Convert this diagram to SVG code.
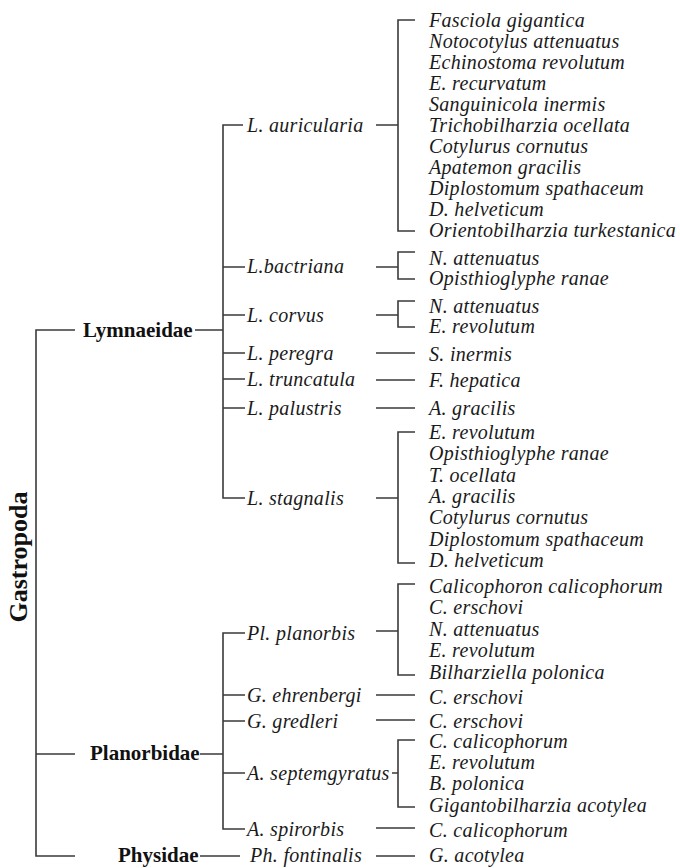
<svg xmlns="http://www.w3.org/2000/svg" width="680" height="868" viewBox="0 0 680 868">
<style>
.ln{stroke:#3a3a3a;stroke-width:1.6;fill:none}
.sp{font-family:"Liberation Serif","Times New Roman",serif;font-style:italic;font-size:20px;letter-spacing:0.3px;fill:#1a1a1a}
.fam{font-family:"Liberation Serif","Times New Roman",serif;font-weight:bold;font-size:21px;fill:#111}
.root{font-family:"Liberation Serif","Times New Roman",serif;font-weight:bold;font-size:26px;fill:#111}
</style>
<rect width="680" height="868" fill="#fff"/>
<g id="connectors" class="ln">
<path d="M75 330H36V856H75M36 754H75"/>
<path d="M195 330H223M243 125H223V498H245M223 267H245M223 315H245M223 353H245M223 379H245M223 408H245"/>
<path d="M200 754H223M245 633H223V829H245M223 695H245M223 721H245M223 773H245"/>
<path d="M200 856H240"/>
<path d="M376 125H398M415 20H398V231H415"/>
<path d="M376 267H398M415 252H398V279H415"/>
<path d="M376 315H398M415 301H398V327H415"/>
<path d="M376 353H415M376 380H415M376 408H415"/>
<path d="M376 498H398M415 432H398V563H415"/>
<path d="M376 631H398M415 584H398V675H415"/>
<path d="M376 695H415M376 720H415"/>
<path d="M392 773H398M415 740H398V807H415"/>
<path d="M376 828H415M376 856H415"/>
</g>
<g id="gastropoda"><text class="root" transform="translate(27 557) rotate(-90)" text-anchor="middle">Gastropoda</text></g>
<g id="lymnaeidae"><text class="fam" x="83" y="337">Lymnaeidae</text></g>
<g id="planorbidae"><text class="fam" x="90" y="760">Planorbidae</text></g>
<g id="physidae"><text class="fam" x="118" y="862">Physidae</text></g>

<g id="l-auricularia"><text class="sp" x="247" y="132">L. auricularia</text></g>
<g id="l-bactriana"><text class="sp" x="247" y="273">L.bactriana</text></g>
<g id="l-corvus"><text class="sp" x="247" y="322">L. corvus</text></g>
<g id="l-peregra"><text class="sp" x="247" y="360">L. peregra</text></g>
<g id="l-truncatula"><text class="sp" x="247" y="386">L. truncatula</text></g>
<g id="l-palustris"><text class="sp" x="247" y="415">L. palustris</text></g>
<g id="l-stagnalis"><text class="sp" x="247" y="505">L. stagnalis</text></g>
<g id="pl-planorbis"><text class="sp" x="247" y="640">Pl. planorbis</text></g>
<g id="g-ehrenbergi"><text class="sp" x="247" y="702">G. ehrenbergi</text></g>
<g id="g-gredleri"><text class="sp" x="247" y="728">G. gredleri</text></g>
<g id="a-septemgyratus"><text class="sp" x="247" y="780">A. septemgyratus</text></g>
<g id="a-spirorbis"><text class="sp" x="247" y="836">A. spirorbis</text></g>
<g id="ph-fontinalis"><text class="sp" x="250" y="862">Ph. fontinalis</text></g>

<g id="parasites-auricularia" class="sp">
<text x="429" y="27">Fasciola gigantica</text>
<text x="429" y="48">Notocotylus attenuatus</text>
<text x="429" y="69">Echinostoma revolutum</text>
<text x="429" y="90">E. recurvatum</text>
<text x="429" y="111">Sanguinicola inermis</text>
<text x="429" y="132">Trichobilharzia ocellata</text>
<text x="429" y="153">Cotylurus cornutus</text>
<text x="429" y="174">Apatemon gracilis</text>
<text x="429" y="195">Diplostomum spathaceum</text>
<text x="429" y="216">D. helveticum</text>
<text x="429" y="237">Orientobilharzia turkestanica</text>
</g>
<g id="parasites-bactriana" class="sp">
<text x="429" y="265">N. attenuatus</text>
<text x="429" y="285">Opisthioglyphe ranae</text>
</g>
<g id="parasites-corvus" class="sp">
<text x="429" y="313">N. attenuatus</text>
<text x="429" y="333">E. revolutum</text>
</g>
<g id="parasites-peregra" class="sp"><text x="429" y="361">S. inermis</text></g>
<g id="parasites-truncatula" class="sp"><text x="429" y="387">F. hepatica</text></g>
<g id="parasites-palustris" class="sp"><text x="429" y="415">A. gracilis</text></g>
<g id="parasites-stagnalis" class="sp">
<text x="429" y="439">E. revolutum</text>
<text x="429" y="460">Opisthioglyphe ranae</text>
<text x="429" y="482">T. ocellata</text>
<text x="429" y="503">A. gracilis</text>
<text x="429" y="524">Cotylurus cornutus</text>
<text x="429" y="546">Diplostomum spathaceum</text>
<text x="429" y="567">D. helveticum</text>
</g>
<g id="parasites-planorbis" class="sp">
<text x="429" y="593">Calicophoron calicophorum</text>
<text x="429" y="614">C. erschovi</text>
<text x="429" y="636">N. attenuatus</text>
<text x="429" y="657">E. revolutum</text>
<text x="429" y="679">Bilharziella polonica</text>
</g>
<g id="parasites-ehrenbergi" class="sp"><text x="429" y="704">C. erschovi</text></g>
<g id="parasites-gredleri" class="sp"><text x="429" y="728">C. erschovi</text></g>
<g id="parasites-septemgyratus" class="sp">
<text x="429" y="748">C. calicophorum</text>
<text x="429" y="769">E. revolutum</text>
<text x="429" y="790">B. polonica</text>
<text x="429" y="812">Gigantobilharzia acotylea</text>
</g>
<g id="parasites-spirorbis" class="sp"><text x="429" y="837">C. calicophorum</text></g>
<g id="parasites-fontinalis" class="sp"><text x="429" y="862">G. acotylea</text></g>
</svg>
